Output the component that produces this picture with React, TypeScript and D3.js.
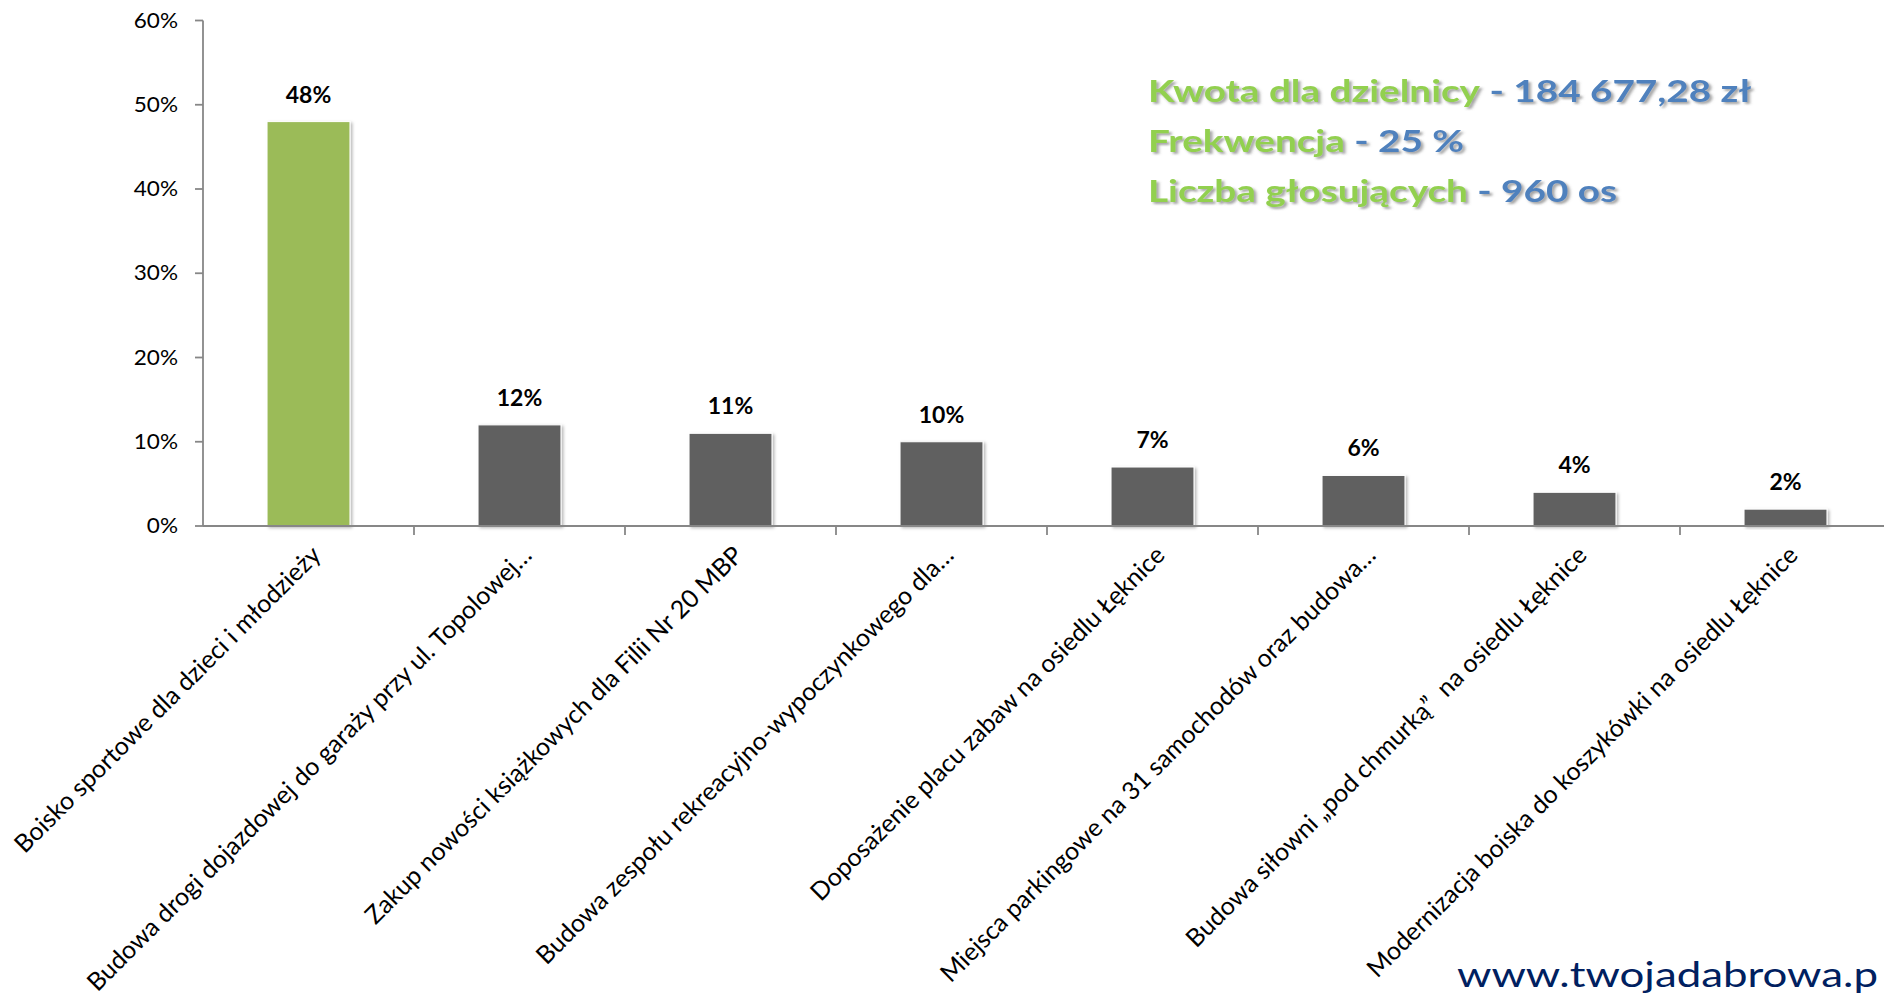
import React from 'react';
import * as d3 from 'd3';

const categories: string[] = [
  'Boisko sportowe dla dzieci i młodzieży',
  'Budowa drogi dojazdowej do garaży przy ul. Topolowej…',
  'Zakup nowości książkowych dla Filii Nr 20 MBP',
  'Budowa zespołu rekreacyjno-wypoczynkowego dla…',
  'Doposażenie placu zabaw na osiedlu Łęknice',
  'Miejsca parkingowe na 31 samochodów oraz budowa…',
  'Budowa siłowni „pod chmurką”  na osiedlu Łęknice',
  'Modernizacja boiska do koszykówki na osiedlu Łęknice',
];
const values: number[] = [0.48, 0.12, 0.11, 0.1, 0.07, 0.06, 0.04, 0.02];
const yTicks: number[] = [0, 0.1, 0.2, 0.3, 0.4, 0.5, 0.6];
const infoLabels: string[] = ['Kwota dla dzielnicy', 'Frekwencja', 'Liczba głosujących'];
const infoValues: string[] = ['184 677,28 zł', '25 %', '960 os'];
const watermark = 'www.twojadabrowa.p';

const FONT = 'Lato, "Open Sans", sans-serif';

export default function App() {
  const W = 1884;
  const H = 999;
  const x0 = 203;
  const step = 211;
  const yBase = 526;
  const yTop = 20.5;

  const x = d3
    .scaleBand<string>()
    .domain(categories)
    .range([x0, x0 + step * categories.length])
    .paddingInner(0.607)
    .paddingOuter(0.3035);
  const y = d3.scaleLinear().domain([0, 0.6]).range([yBase, yTop]);
  const fmt = d3.format('.0%');
  const bw = x.bandwidth();
  const boundaries = categories.map((c) => (x(c) as number) + bw / 2 + x.step() / 2);

  const axisColor = '#878787';
  const tickStretch = 1.1;
  const titleStretch = 1.29;

  return (
    <svg
      width={W}
      height={H}
      viewBox={`0 0 ${W} ${H}`}
      style={{ position: 'absolute', left: 0, top: 0, background: '#fff' }}
      fontFamily={FONT}
    >
      <defs>
        <filter id="barShadow" x="-20%" y="-20%" width="140%" height="140%">
          <feDropShadow dx="2" dy="1.5" stdDeviation="1.6" floodColor="#000" floodOpacity="0.28" />
        </filter>
        <filter id="txtShadow" x="-5%" y="-20%" width="110%" height="150%">
          <feDropShadow dx="2" dy="2" stdDeviation="1.2" floodColor="#555" floodOpacity="0.55" />
        </filter>
      </defs>

      {/* y axis */}
      <line x1={x0} x2={x0} y1={y(0.6)} y2={yBase} stroke={axisColor} strokeWidth={1.8} />
      {yTicks.map((t) => (
        <g key={t}>
          <line x1={x0 - 8} x2={x0} y1={y(t)} y2={y(t)} stroke={axisColor} strokeWidth={1.8} />
          <text
            transform={`translate(${178},${y(t)}) scale(${tickStretch},1)`}
            textAnchor="end"
            dy="0.35em"
            fontSize={20.5}
            fill="#000"
          >
            {fmt(t)}
          </text>
        </g>
      ))}

      {/* bars */}
      {categories.map((c, i) => (
        <rect
          key={c}
          x={x(c)}
          y={y(values[i])}
          width={bw}
          height={yBase - y(values[i])}
          fill={i === 0 ? '#9BBB59' : '#606060'}
          stroke="#ffffff"
          strokeWidth={1}
          filter="url(#barShadow)"
        />
      ))}

      {/* x axis */}
      <line x1={x0} x2={W} y1={yBase} y2={yBase} stroke={axisColor} strokeWidth={1.8} />
      {boundaries.map((b, i) => (
        <line key={i} x1={b} x2={b} y1={yBase} y2={yBase + 9} stroke={axisColor} strokeWidth={1.8} />
      ))}

      {/* data labels */}
      {categories.map((c, i) => (
        <text
          key={c}
          x={(x(c) as number) + bw / 2}
          y={y(values[i]) - 19}
          textAnchor="middle"
          fontWeight={700}
          fontSize={23}
          fill="#000"
        >
          {fmt(values[i])}
        </text>
      ))}

      {/* category labels */}
      {categories.map((c) => (
        <text
          key={c}
          transform={`translate(${(x(c) as number) + bw / 2},${yBase}) rotate(-45)`}
          x={-12}
          y={31.5}
          textAnchor="end"
          fontSize={25}
          fill="#000"
          style={{ whiteSpace: 'pre' }}
        >
          {c}
        </text>
      ))}

      {/* info block */}
      {infoLabels.map((l, i) => (
        <text
          key={l}
          transform={`translate(1148,${101.5 + i * 50}) scale(${titleStretch},1)`}
          fontSize={30}
          fontWeight={700}
          filter="url(#txtShadow)"
        >
          <tspan fill="#92D050">{l}</tspan>
          <tspan fill="#4F81BD">{' - ' + infoValues[i]}</tspan>
        </text>
      ))}

      {/* watermark */}
      <text
        x={1457}
        y={987}
        fontSize={35}
        fill="#002060"
        textLength={421}
        lengthAdjust="spacingAndGlyphs"
      >
        {watermark}
      </text>
    </svg>
  );
}
